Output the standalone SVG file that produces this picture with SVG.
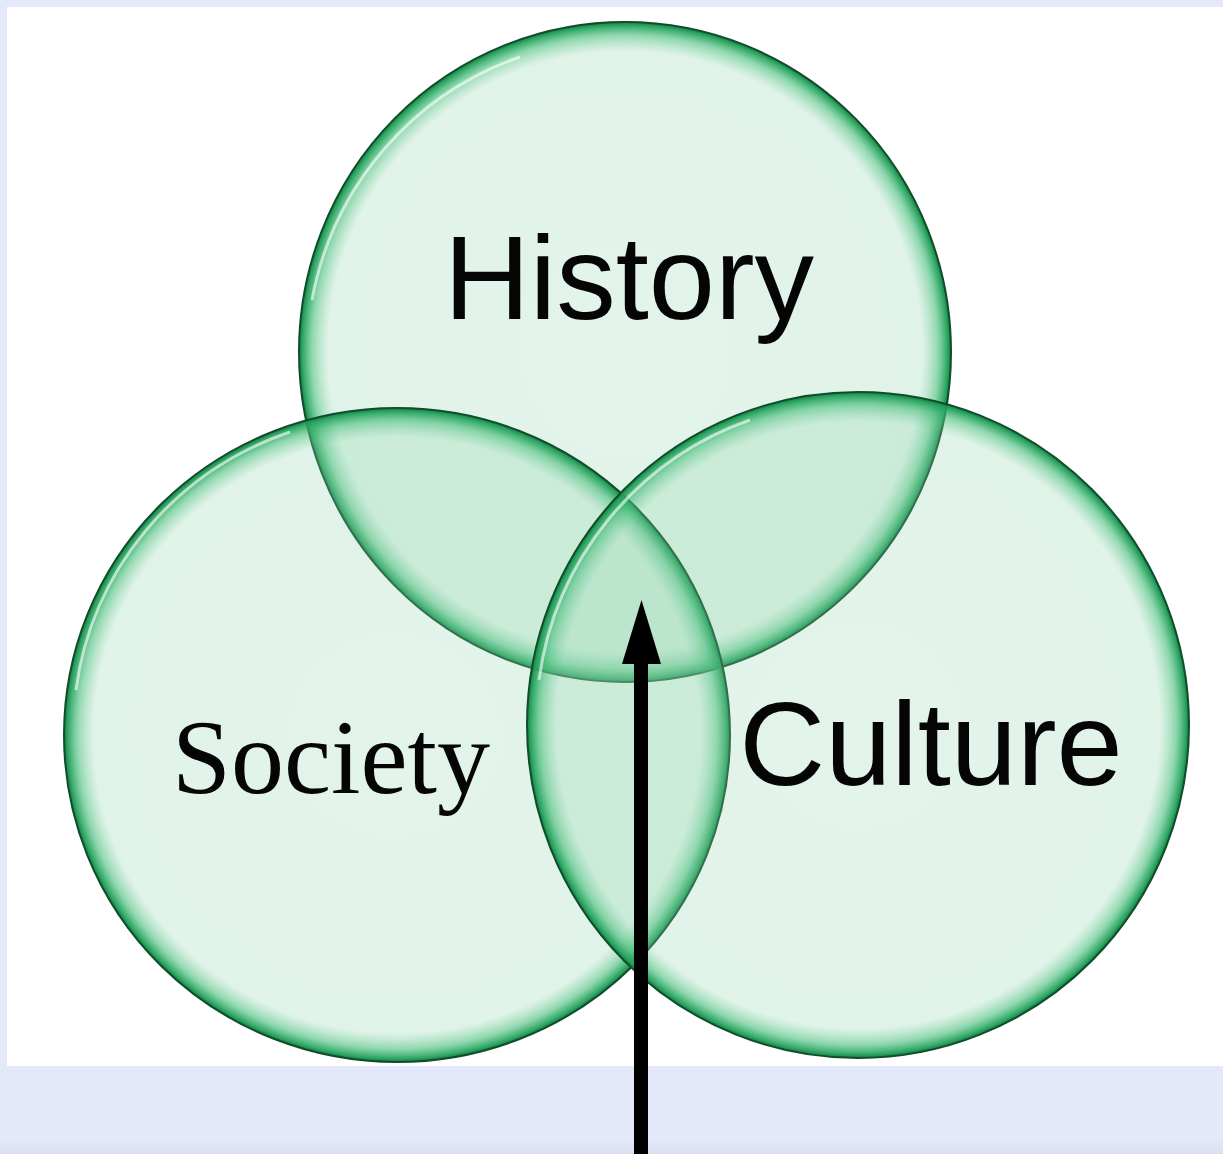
<svg xmlns="http://www.w3.org/2000/svg" width="1223" height="1154" viewBox="0 0 1223 1154">
  <style>
    .ring { fill: url(#glow); stroke: #0f4d2b; stroke-width: 2; }
    .hl { fill: none; stroke: #ffffff; stroke-width: 3; stroke-opacity: 0.6; }
    .sans { font-family: "Liberation Sans", Arial, sans-serif; fill: #050505; }
    .serif { font-family: "Liberation Serif", "Times New Roman", serif; fill: #050505; }
  </style>
  <defs>
    <radialGradient id="glow" cx="0.5" cy="0.5" r="0.5">
      <stop offset="0" stop-color="#8fd4ad" stop-opacity="0.25"/>
      <stop offset="0.91" stop-color="#8fd4ad" stop-opacity="0.27"/>
      <stop offset="0.96" stop-color="#45bd79" stop-opacity="0.6"/>
      <stop offset="0.99" stop-color="#22a05a" stop-opacity="0.95"/>
      <stop offset="1" stop-color="#187a42" stop-opacity="1"/>
    </radialGradient>
    <linearGradient id="bottomBand" x1="0" y1="0" x2="0" y2="1">
      <stop offset="0" stop-color="#e4e8fb"/>
      <stop offset="0.85" stop-color="#e4e8fb"/>
      <stop offset="1" stop-color="#dcdcef"/>
    </linearGradient>
  </defs>

  <rect x="0" y="0" width="1223" height="1154" fill="#e4e8fb"/>
  <rect x="7" y="7" width="1216" height="1059" fill="#ffffff"/>
  <rect x="0" y="1066" width="1223" height="88" fill="url(#bottomBand)"/>

  <g id="history">
    <ellipse class="ring" cx="625" cy="352" rx="326" ry="330"/>
    <path class="hl" d="M 312 300 A 315 318 0 0 1 520 57"/>
    <text class="sans" x="629" y="319" font-size="119" text-anchor="middle">History</text>
  </g>
  <g id="society">
    <ellipse class="ring" cx="397" cy="735" rx="333" ry="327"/>
    <path class="hl" d="M 76 690 A 321 315 0 0 1 290 432"/>
    <text class="serif" x="331" y="793" font-size="106" text-anchor="middle">Society</text>
  </g>
  <g id="culture">
    <ellipse class="ring" cx="858" cy="725" rx="331" ry="333"/>
    <path class="hl" d="M 539 680 A 319 321 0 0 1 750 420"/>
    <text class="sans" x="931" y="785" font-size="119" text-anchor="middle">Culture</text>
  </g>

  <g id="connectors">
    <line x1="641" y1="1154" x2="641" y2="660" stroke="#000000" stroke-width="14"/>
    <polygon points="641.5,600 661,664 622,664" fill="#000000"/>
  </g>
</svg>
